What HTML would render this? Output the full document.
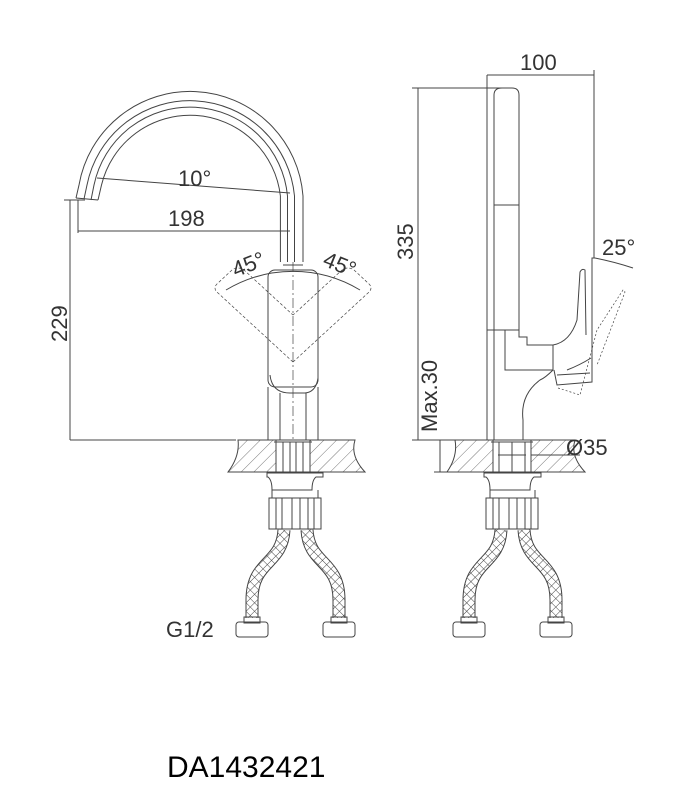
<!DOCTYPE html>
<html><head><style>
html,body{margin:0;padding:0;background:#fff;}
svg{display:block;}
text{font-family:"Liberation Sans",Arial,sans-serif;fill:#333;}
</style></head><body>
<svg width="696" height="796" viewBox="0 0 696 796" xmlns="http://www.w3.org/2000/svg">
<defs>
<pattern id="hatch" width="9" height="9" patternUnits="userSpaceOnUse" patternTransform="rotate(45)">
<line x1="0" y1="0" x2="0" y2="9" stroke="#555" stroke-width="0.8"/>
</pattern>
<pattern id="xh" width="6" height="6" patternUnits="userSpaceOnUse" patternTransform="rotate(45)">
<rect width="6" height="6" fill="#fff"/>
<line x1="0" y1="0" x2="0" y2="6" stroke="#444" stroke-width="1"/>
<line x1="0" y1="0" x2="6" y2="0" stroke="#444" stroke-width="1"/>
</pattern>
</defs>
<g fill="none" stroke="#444" stroke-width="1">

<!-- ===== LEFT VIEW ===== -->
<path d="M76,198 L79,185 A113,113 0 0 1 303,196 L303,262"/>
<path d="M84,199 L87,185 A105,105 0 0 1 294.5,196 L294.5,262"/>
<path d="M91,200 L94,185 A98,98 0 0 1 287.5,196 L287.5,262"/>
<path d="M98,200 L101.5,185 A91,91 0 0 1 280.4,196 L280.4,262"/>
<path d="M76,198 L98,200"/>
<rect x="268" y="270" width="50" height="117" rx="7"/>
<path d="M270,375 Q272,393 290,393 L305,393 Q316,392 318,378"/>
<path d="M268,387 L268,440 M318,387 L318,440 M280,393 L280,440 M306,393 L306,440"/>
<line x1="293" y1="262" x2="293" y2="440" stroke-dasharray="10,3,2,3" stroke-width="0.7"/>
<g stroke-dasharray="3,2" stroke-width="0.7">
<path d="M293,362 L218,293 Q212,288 218,283 L232,270 Q238,266 244,270 L293,315"/>
<path d="M293,362 L368,293 Q374,288 368,283 L354,270 Q348,266 342,270 L293,315"/>
</g>
<path d="M226,290 A130,130 0 0 1 360,290"/>
<path d="M283,265 L303,265"/>
<path d="M238,440 L355,440 Q350,456 365,472 L228,472 Q240,456 238,440 Z" fill="url(#hatch)"/>
<rect x="276" y="440" width="34" height="32" fill="#fff"/>
<path d="M276,440 L276,472 M310,440 L310,472 M283,442 L283,472 M290,442 L290,472 M296,442 L296,472 M303,442 L303,472"/>
<path d="M274,442 L312,442"/>
<path d="M267,473 L323,473 L323,477 L316,477 Q312,480 312,490 L272,490 Q272,480 268,477 L267,477 Z"/>
<rect x="269" y="498" width="52" height="31"/>
<path d="M272,490 L272,498 M318,490 L318,498 M276,498 L276,529 M282,498 L282,529 M292,498 L292,529 M300,498 L300,529 M308,498 L308,529 M314,498 L314,529"/>
<path d="M284,530 C282,565 252,560 252,600 L252,618" stroke="#444" stroke-width="13"/>
<path d="M284,530 C282,565 252,560 252,600 L252,618" stroke="url(#xh)" stroke-width="11"/>
<path d="M307,530 C309,565 339,560 339,600 L339,618" stroke="#444" stroke-width="13"/>
<path d="M307,530 C309,565 339,560 339,600 L339,618" stroke="url(#xh)" stroke-width="11"/>
<rect x="236" y="622" width="32" height="15" rx="3"/>
<rect x="244" y="617" width="16" height="6"/>
<rect x="323" y="622" width="32" height="15" rx="3"/>
<rect x="331" y="617" width="16" height="6"/>
<path d="M70,200 L70,440 M64,200 L85,200 M70,440 L236,440"/>
<path d="M78,200 L78,233 M78,231 L290,231"/>
<path d="M97,178 Q190,185 290,193"/>

<!-- ===== RIGHT VIEW ===== -->
<path d="M487,75 L487,440 M487,330 L519,330"/>
<path d="M494,440 L494,330 L494,95 Q494,88 502,88 L512,88 Q519,88 519,95 L519,330"/>
<path d="M494,205 L519,205"/>
<path d="M519,330 L519,337 L527,337 L527,345 L553,345 Q570,342 577,320 L580,272 Q582,268 585,270 L586,335"/>
<path d="M505,330 L505,370 L553,370"/>
<path d="M553,345 L553,370 Q545,378 540,380 Q520,395 523,420 L523,440"/>
<path d="M567,370 Q580,365 591,358"/>
<path d="M554,370 L557,385 L592,382 L592,258 L595,258"/>
<path d="M557,375 L590,373"/>
<g stroke-dasharray="2,2" stroke-width="0.7">
<path d="M558,388 L580,395 L597,330 L623,290 L625,292 L597,365"/>
</g>
<path d="M595,258 Q615,262 633,268"/>
<path d="M455,440 L575,440 Q570,456 585,472 L447,472 Q458,456 455,440 Z" fill="url(#hatch)"/>
<rect x="493" y="440" width="38" height="32" fill="#fff"/>
<path d="M493,440 L493,472 M531,440 L531,472 M499,442 L499,472 M525,442 L525,472 M512,442 L512,472 M498,455 L526,455 M491,442 L533,442"/>
<path d="M484,473 L541,473 L541,477 L534,477 Q530,480 530,490 L490,490 Q490,480 486,477 L484,477 Z"/>
<rect x="486" y="498" width="52" height="31"/>
<path d="M490,490 L490,498 M535,490 L535,498 M493,498 L493,529 M499,498 L499,529 M509,498 L509,529 M517,498 L517,529 M525,498 L525,529 M531,498 L531,529"/>
<path d="M501,530 C499,565 469,560 469,600 L469,618" stroke="#444" stroke-width="13"/>
<path d="M501,530 C499,565 469,560 469,600 L469,618" stroke="url(#xh)" stroke-width="11"/>
<path d="M524,530 C526,565 556,560 556,600 L556,618" stroke="#444" stroke-width="13"/>
<path d="M524,530 C526,565 556,560 556,600 L556,618" stroke="url(#xh)" stroke-width="11"/>
<rect x="453" y="622" width="32" height="15" rx="3"/>
<rect x="461" y="617" width="16" height="6"/>
<rect x="540" y="622" width="32" height="15" rx="3"/>
<rect x="548" y="617" width="16" height="6"/>
<path d="M487,75 L594,75 M594,70 L594,258"/>
<path d="M418,88 L418,440 M412,88 L505,88 M412,440 L487,440"/>
<path d="M440,440 L440,472 M434,472 L447,472"/>
<path d="M531,455 L580,455"/>
</g>
<g font-size="22">
<text x="178" y="186">10°</text>
<text x="168" y="226">198</text>
<text x="232" y="272" transform="rotate(-22 248 265)">45°</text>
<text x="323" y="272" transform="rotate(22 340 265)">45°</text>
<text x="0" y="0" transform="translate(67,342) rotate(-90)">229</text>
<text x="520" y="70">100</text>
<text x="0" y="0" transform="translate(413,260) rotate(-90)">335</text>
<text x="0" y="0" transform="translate(437,432) rotate(-90)">Max.30</text>
<text x="566" y="455">Ø35</text>
<text x="602" y="255">25°</text>
<text x="166" y="637">G1/2</text>
<text x="167" y="777" font-size="30" style="fill:#000">DA1432421</text>
</g>
</svg>
</body></html>
